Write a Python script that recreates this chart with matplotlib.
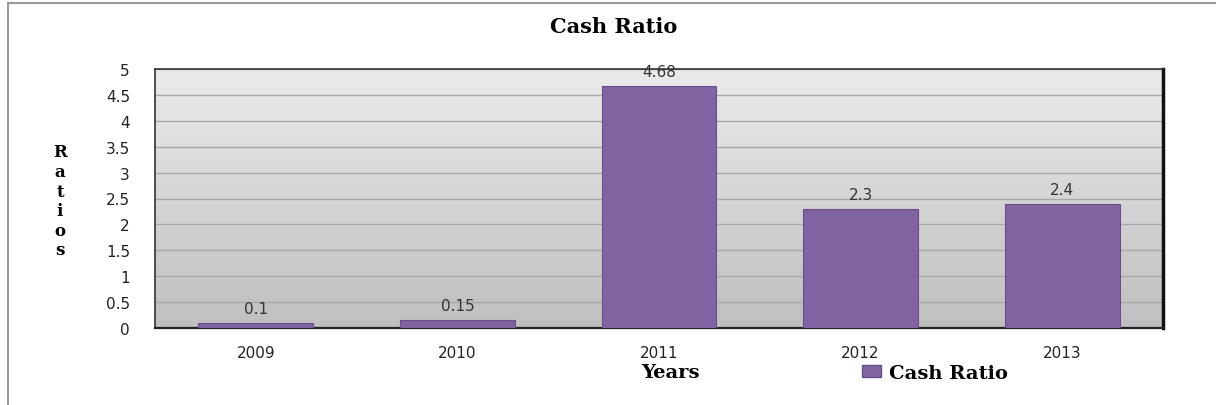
import numpy as np
import matplotlib
matplotlib.use("Agg")
from matplotlib import pyplot as plt
from matplotlib.lines import Line2D
from matplotlib.patches import Patch

# data
years = ["2009", "2010", "2011", "2012", "2013"]
cash_ratio = [0.1, 0.15, 4.68, 2.3, 2.4]
yticks = [0, 0.5, 1, 1.5, 2, 2.5, 3, 3.5, 4, 4.5, 5]
ytick_labels = ["0", "0.5", "1", "1.5", "2", "2.5", "3", "3.5", "4", "4.5", "5"]

purple = "#8064a2"
serif = "DejaVu Serif"
plt.rcParams["font.family"] = "DejaVu Sans"

fig = plt.figure(figsize=(12.16, 4.06), dpi=100)
ax = fig.add_axes([155/1216, 1-329/406, 1008/1216, 259/406])

# gradient background
grad = np.linspace(0, 1, 256).reshape(-1, 1)
ax.imshow(grad, extent=[0, 1, 0, 1], transform=ax.transAxes, aspect="auto",
          cmap=matplotlib.colors.LinearSegmentedColormap.from_list("g", ["#ebebeb", "#bfbfbf"]),
          zorder=0, origin="upper")

x = np.arange(len(years))
bars = ax.bar(x, cash_ratio, width=0.57, color=purple, edgecolor="#6a4f8c", linewidth=0.8, zorder=3)
for xi, v in zip(x, cash_ratio):
    ax.annotate(str(v), (xi, v), xytext=(0, 5), textcoords="offset points",
                ha="center", va="bottom", fontsize=11, color="#333333", zorder=4)

ax.set_xlim(-0.5, 4.5)
ax.set_ylim(0, 5)
ax.set_yticks(yticks)
ax.set_yticklabels(ytick_labels)
ax.set_xticks(x)
ax.set_xticklabels(years)
ax.tick_params(axis="both", length=0, labelsize=11, colors="#222222")
ax.tick_params(axis="y", pad=18)
ax.tick_params(axis="x", pad=12)
ax.yaxis.grid(True, color="#a8a8a8", linewidth=1.0, zorder=1)
ax.set_axisbelow(True)

ax.spines["top"].set_color("#333333")
ax.spines["top"].set_linewidth(1.2)
ax.spines["left"].set_color("#333333")
ax.spines["left"].set_linewidth(1.2)
ax.spines["right"].set_color("#111111")
ax.spines["right"].set_linewidth(2.5)
ax.spines["bottom"].set_color("#222222")
ax.spines["bottom"].set_linewidth(1.6)

fig.text(614/1216, 1-27/406, "Cash Ratio", ha="center", va="center",
         fontsize=15, fontweight="bold", family=serif)
fig.text(670/1216, 1-373/406, "Years", ha="center", va="center",
         fontsize=14, fontweight="bold", family=serif)
fig.text(60/1216, 1-202/406, "R\na\nt\ni\no\ns", ha="center", va="center",
         fontsize=12, fontweight="bold", family=serif, linespacing=1.2)

fig.legend(handles=[Patch(facecolor=purple, edgecolor="#6a4f8c", label="Cash Ratio")],
           loc="center left", bbox_to_anchor=(852/1216, 1-374/406), frameon=False,
           prop={"family": serif, "weight": "bold", "size": 14},
           handlelength=1.0, handleheight=0.6, handletextpad=0.4, borderpad=0)

# outer chart border
fig.add_artist(Line2D([8/1216, 8/1216], [0, 1-4/406], color="#9a9a9a", linewidth=1.5))
fig.add_artist(Line2D([8/1216, 1], [1-4/406, 1-4/406], color="#9a9a9a", linewidth=1.5))

fig.savefig("out.png", dpi=100)
